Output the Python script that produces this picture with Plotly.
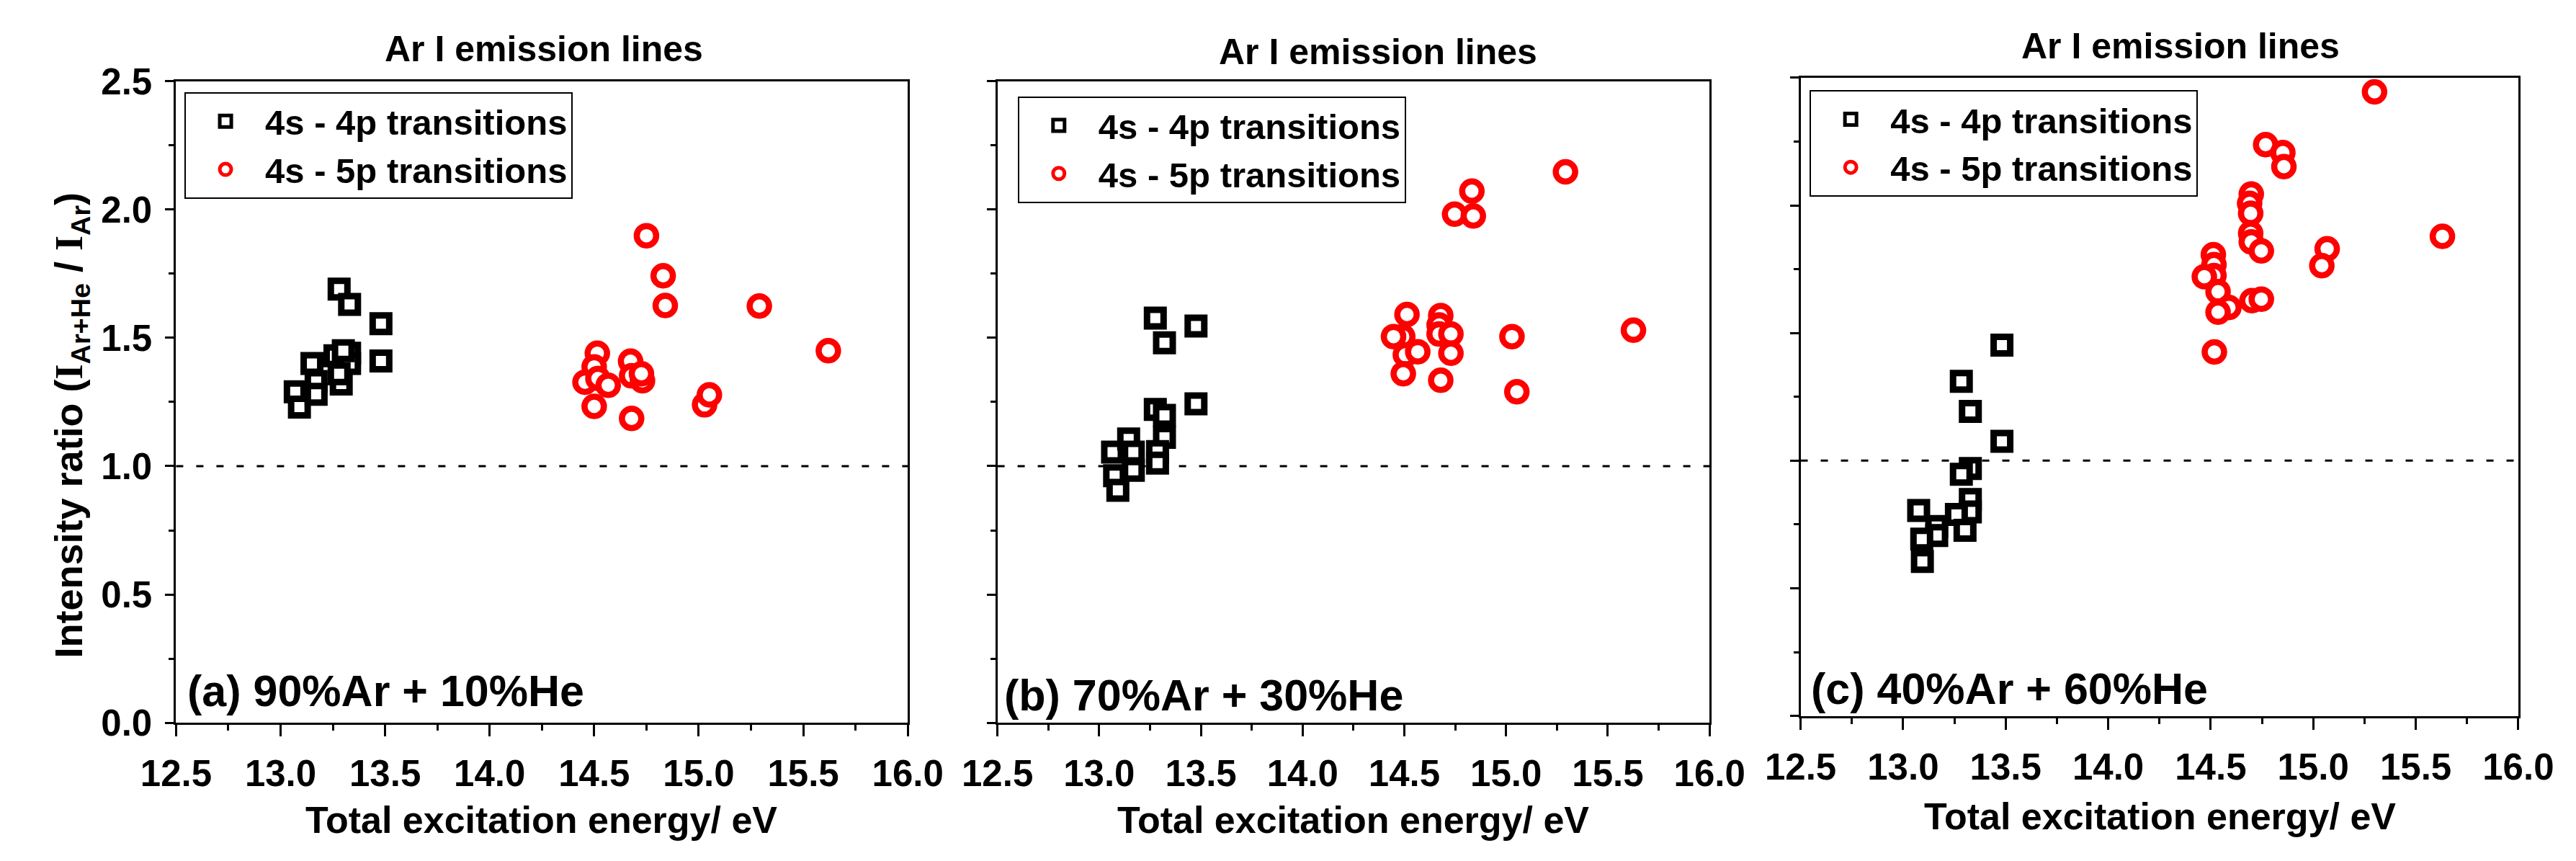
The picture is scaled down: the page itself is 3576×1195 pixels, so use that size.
import plotly.graph_objects as go

W, H = 3576, 1195
FONT = "Liberation Sans Narrow, Arial Narrow, Liberation Sans, Arial, sans-serif"

# ---------------- data ----------------
panel_labels = ["(a) 90%Ar + 10%He", "(b) 70%Ar + 30%He", "(c) 40%Ar + 60%He"]
series_names = ["4s - 4p transitions", "4s - 5p transitions"]
panel_title = "Ar I emission lines"
x_title = "Total excitation energy/ eV"
y_title = ("Intensity ratio (<span style=\"font-family:Liberation Serif\">I</span><sub>Ar+He</sub>"
           " / <span style=\"font-family:Liberation Serif\">I</span><sub>Ar</sub>)")

x_tick_vals = [12.5, 13.0, 13.5, 14.0, 14.5, 15.0, 15.5, 16.0]
x_tick_text = ["12.5", "13.0", "13.5", "14.0", "14.5", "15.0", "15.5", "16.0"]
y_tick_vals = [0.0, 0.5, 1.0, 1.5, 2.0, 2.5]
y_tick_text = ["0.0", "0.5", "1.0", "1.5", "2.0", "2.5"]

a_4p_x = [13.28, 13.33, 13.48, 13.48, 13.15, 13.07, 13.09, 13.17, 13.17, 13.26, 13.33, 13.33, 13.29, 13.28, 13.30]
a_4p_y = [1.69, 1.63, 1.555, 1.41, 1.40, 1.29, 1.23, 1.33, 1.28, 1.43, 1.44, 1.40, 1.32, 1.36, 1.45]
a_5p_x = [14.75, 14.83, 14.84, 15.29, 15.62, 14.515, 14.50, 14.456, 14.518, 14.567, 14.50, 14.674,
          14.679, 14.731, 14.726, 14.679, 15.028, 15.051]
a_5p_y = [1.898, 1.742, 1.626, 1.624, 1.450, 1.440, 1.387, 1.327, 1.342, 1.315, 1.233, 1.409,
          1.352, 1.333, 1.360, 1.186, 1.239, 1.278]

b_4p_x = [13.276, 13.321, 13.476, 13.476, 13.276, 13.321, 13.321, 13.287, 13.287, 13.066, 13.145,
          13.168, 13.168, 13.076, 13.092]
b_4p_y = [1.577, 1.481, 1.546, 1.243, 1.221, 1.198, 1.112, 1.057, 1.012, 1.055, 1.106,
          1.055, 0.984, 0.963, 0.906]
b_5p_x = [15.292, 14.832, 14.747, 14.839, 15.626, 15.029, 15.053, 14.513, 14.492, 14.447, 14.505,
          14.566, 14.495, 14.679, 14.671, 14.671, 14.729, 14.729, 14.679]
b_5p_y = [2.147, 2.072, 1.982, 1.975, 1.530, 1.505, 1.290, 1.591, 1.505, 1.505, 1.434,
          1.446, 1.360, 1.587, 1.550, 1.515, 1.515, 1.440, 1.335]

c_4p_x = [13.482, 13.284, 13.328, 13.482, 13.328, 13.284, 13.328, 13.328, 13.26, 13.302, 13.076,
          13.164, 13.164, 13.091, 13.094]
c_4p_y = [1.453, 1.311, 1.193, 1.076, 0.969, 0.947, 0.848, 0.799, 0.789, 0.727, 0.805,
          0.742, 0.707, 0.693, 0.605]
c_5p_x = [15.299, 14.768, 14.852, 14.857, 15.630, 14.698, 14.690, 14.695, 14.695, 14.698, 14.747,
          15.068, 15.042, 14.513, 14.516, 14.516, 14.469, 14.536, 14.589, 14.536, 14.701, 14.747, 14.518]
c_5p_y = [2.445, 2.238, 2.207, 2.152, 1.879, 2.045, 2.008, 1.969, 1.891, 1.857, 1.822,
          1.830, 1.764, 1.807, 1.768, 1.725, 1.721, 1.662, 1.600, 1.582, 1.627, 1.633, 1.426]

ref_ratio = 1.0
x_range = [12.5, 16.0]
y_range = [0.0, 2.5]

# ---------------- layout geometry (pixels) ----------------
def fx(p):
    return p / W

def fy(p):
    return 1 - p / H

plot_boxes = [  # left, right, top, bottom (px)
    (200, 1245, 89, 1024),
    (1373, 2390, 89, 1024),
    (2520, 3545, 84, 1014),
]
title_pos = [(725, 42), (1917, 46), (3063, 38)]
xtitle_pos = [(722, 1166), (1881, 1166), (3033, 1160)]
label_pos = [(214, 978), (1381, 984), (2533, 974)]
legend_pos = [(212, 105), (1402, 111), (2533, 102)]

data = [
    (a_4p_x, a_4p_y, a_5p_x, a_5p_y),
    (b_4p_x, b_4p_y, b_5p_x, b_5p_y),
    (c_4p_x, c_4p_y, c_5p_x, c_5p_y),
]

def bold(labels):
    return ["<b>%s</b>" % s for s in labels]

fig = go.Figure()
layout = dict(
    width=W, height=H,
    margin=dict(l=0, r=0, t=0, b=0),
    paper_bgcolor="white", plot_bgcolor="white",
    font=dict(family=FONT, color="black", size=50, weight="bold"),
    shapes=[], annotations=[],
)

for i, (x4, y4, x5, y5) in enumerate(data):
    n = "" if i == 0 else str(i + 1)
    xa, ya = "x" + n, "y" + n
    lg = "legend" + n
    fig.add_trace(go.Scatter(
        x=x4, y=y4, mode="markers", name="<b>%s</b>" % series_names[0],
        xaxis=xa, yaxis=ya, legend=lg,
        marker=dict(symbol="square", size=23, color="white",
                    line=dict(color="black", width=9)),
    ))
    fig.add_trace(go.Scatter(
        x=x5, y=y5, mode="markers", name="<b>%s</b>" % series_names[1],
        xaxis=xa, yaxis=ya, legend=lg,
        marker=dict(symbol="circle", size=27, color="white",
                    line=dict(color="#ff0000", width=8.5)),
    ))
    l, r, t, b = plot_boxes[i]
    layout["xaxis" + n] = dict(
        domain=[fx(l), fx(r)], anchor=ya, range=x_range,
        tickmode="array", tickvals=x_tick_vals, ticktext=bold(x_tick_text),
        ticks="outside", ticklen=16, tickwidth=3, tickcolor="black",
        showline=True, linewidth=3, linecolor="black", mirror=True,
        showgrid=False, zeroline=False,
        tickfont=dict(size=51, family=FONT, weight="bold"),
        ticklabelstandoff=8,
        minor=dict(ticks="outside", ticklen=8, tickwidth=3, tickcolor="black",
                   dtick=0.25, tick0=12.5, showgrid=False),
    )
    layout["yaxis" + n] = dict(
        domain=[fy(b), fy(t)], anchor=xa, range=y_range,
        tickmode="array", tickvals=y_tick_vals, ticktext=bold(y_tick_text),
        ticks="outside", ticklen=12, tickwidth=3, tickcolor="black",
        showline=True, linewidth=3, linecolor="black", mirror=True,
        showgrid=False, zeroline=False, showticklabels=(i == 0),
        tickfont=dict(size=51, family=FONT, weight="bold"),
        ticklabelstandoff=8,
        minor=dict(ticks="outside", ticklen=7, tickwidth=3, tickcolor="black",
                   dtick=0.25, tick0=0, showgrid=False),
    )
    layout["shapes"].append(dict(
        type="line", xref=xa + " domain", yref=ya, x0=0, x1=1, y0=ref_ratio, y1=ref_ratio,
        line=dict(color="black", width=3, dash="10px,18px"), layer="below",
    ))
    lx, ly = legend_pos[i]
    layout[lg] = dict(
        x=fx(lx), y=fy(ly), xanchor="left", yanchor="top",
        bgcolor="white", bordercolor="black", borderwidth=2,
        font=dict(size=49, family=FONT, weight="bold"),
        itemwidth=100, tracegroupgap=0, itemsizing="trace",
    )
    tx, ty = title_pos[i]
    layout["annotations"].append(dict(
        text="<b>%s</b>" % panel_title, x=fx(tx), y=fy(ty), xref="paper", yref="paper",
        xanchor="center", yanchor="middle", showarrow=False,
        font=dict(size=50, family=FONT, weight="bold"),
    ))
    qx, qy = xtitle_pos[i]
    layout["annotations"].append(dict(
        text="<b>%s</b>" % x_title, x=fx(qx), y=fy(qy), xref="paper", yref="paper",
        xanchor="center", yanchor="middle", showarrow=False,
        font=dict(size=52, family=FONT, weight="bold"),
    ))
    px_, py_ = label_pos[i]
    layout["annotations"].append(dict(
        text="<b>%s</b>" % panel_labels[i], x=fx(px_), y=fy(py_), xref="paper", yref="paper",
        xanchor="left", yanchor="middle", showarrow=False,
        font=dict(size=61, family=FONT, weight="bold"),
    ))

layout["annotations"].append(dict(
    text="<b>%s</b>" % y_title, x=fx(50), y=fy(590), xref="paper", yref="paper",
    xanchor="center", yanchor="middle", showarrow=False, textangle=-90,
    font=dict(size=54, family=FONT, weight="bold"),
))

fig.update_layout(**layout)
fig.write_html("out.html")
